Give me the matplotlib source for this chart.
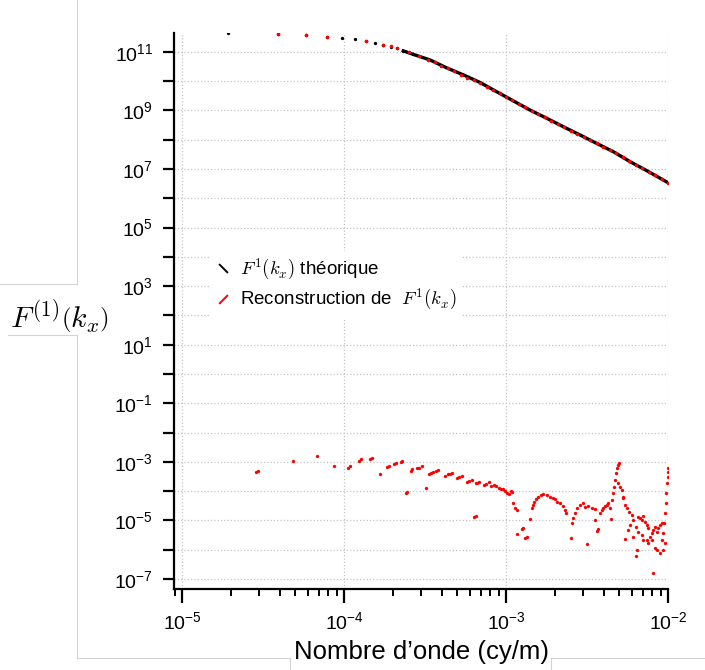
import matplotlib
matplotlib.use('Agg')
import matplotlib.pyplot as plt
import numpy as np
from matplotlib.lines import Line2D
from matplotlib.font_manager import FontProperties
from matplotlib.ticker import FixedLocator, LogLocator, NullFormatter

plt.rcParams['font.family'] = ['Liberation Sans', 'DejaVu Sans']
plt.rcParams['mathtext.fontset'] = 'custom'
plt.rcParams['mathtext.rm'] = 'Liberation Sans'
plt.rcParams['mathtext.it'] = 'Liberation Sans:italic'
plt.rcParams['mathtext.bf'] = 'Liberation Sans:bold'

# spectre theorique (log10 k, log10 F)
theo_logk = [-4.714, -4.409, -4.236, -4.107, -4.012, -3.932, -3.866, -3.809, -3.757, -3.712,
             -3.671, -3.634, -3.572, -3.469, -3.366, -3.263, -3.16, -3.0, -2.852, -2.749,
             -2.646, -2.543, -2.44, -2.338, -2.235, -2.131, -2.0]
theo_logF = [11.63, 11.60, 11.57, 11.51, 11.48, 11.42, 11.37, 11.31, 11.23, 11.17,
             11.12, 11.03, 10.91, 10.72, 10.45, 10.21, 9.95, 9.46, 9.01, 8.73,
             8.44, 8.16, 7.87, 7.59, 7.25, 6.94, 6.53]

# spectre reconstruit
recon_logk = [-4.409, -4.236, -4.107, -3.866, -3.757, -3.712, -3.671, -3.60, -3.54, -3.48,
              -3.44, -3.40, -3.36, -3.32, -3.28, -3.24, -3.20, -3.16, -3.12, -3.08,
              -3.04, -3.00, -2.96, -2.92, -2.88, -2.84, -2.80, -2.76, -2.72, -2.68,
              -2.64, -2.60, -2.56, -2.52, -2.48, -2.44, -2.40, -2.36, -2.32, -2.28,
              -2.24, -2.20, -2.16, -2.12, -2.08, -2.04, -2.00]
recon_logF = [11.60, 11.56, 11.52, 11.37, 11.24, 11.18, 11.12, 10.98, 10.86, 10.72,
              10.64, 10.53, 10.44, 10.33, 10.22, 10.12, 10.02, 9.92, 9.81, 9.69,
              9.58, 9.46, 9.34, 9.22, 9.10, 8.98, 8.87, 8.76, 8.64, 8.53,
              8.42, 8.31, 8.20, 8.09, 7.98, 7.87, 7.76, 7.65, 7.53, 7.40,
              7.27, 7.14, 7.02, 6.90, 6.78, 6.65, 6.53]

# ecart entre les deux (points rouges du bas)
err_logk = [-4.545, -4.533, -4.313, -4.165, -4.06, -3.977, -3.965, -3.905, -3.893, -3.84,
            -3.827, -3.78, -3.733, -3.722, -3.691, -3.681, -3.648, -3.64, -3.619, -3.609,
            -3.588, -3.578, -3.548, -3.537, -3.520, -3.494, -3.473, -3.461, -3.449, -3.432,
            -3.418, -3.377, -3.358, -3.346, -3.335, -3.304, -3.29, -3.273, -3.239, -3.227,
            -3.212, -3.198, -3.187, -3.187, -3.177, -3.165, -3.133, -3.121, -3.107, -3.09,
            -3.076, -3.064, -3.046, -3.031, -3.021, -3.006, -2.992, -2.981, -2.97, -2.96,
            -2.955, -2.944, -2.934, -2.934, -2.903, -2.893, -2.883, -2.869, -2.852, -2.841,
            -2.835, -2.827, -2.815, -2.80, -2.786, -2.77, -2.749, -2.728, -2.712, -2.698,
            -2.683, -2.667, -2.65, -2.636, -2.63, -2.601, -2.594, -2.585, -2.574, -2.56,
            -2.543, -2.527, -2.512, -2.502, -2.492, -2.471, -2.451, -2.451, -2.44, -2.43,
            -2.42, -2.409, -2.399, -2.389, -2.378, -2.368, -2.358, -2.354, -2.348, -2.338,
            -2.331, -2.325, -2.321, -2.317, -2.311, -2.303, -2.307, -2.296, -2.286, -2.28,
            -2.276, -2.265, -2.255, -2.239, -2.224, -2.235, -2.245, -2.265, -2.214, -2.198,
            -2.183, -2.173, -2.162, -2.152, -2.142, -2.131, -2.121, -2.111, -2.101, -2.091,
            -2.08, -2.07, -2.06, -2.049, -2.039, -2.193, -2.198, -2.131, -2.121, -2.101,
            -2.08, -2.07, -2.049, -2.091, -2.162, -2.152, -2.183, -2.214, -2.029, -2.018,
            -2.029, -2.039, -2.024, -2.018, -2.014, -2.010, -2.006, -2.003, -2.001, -2.000]
err_logF = [-3.36, -3.31, -2.98, -2.79, -3.14, -3.20, -3.15, -2.97, -2.91, -2.90,
            -2.86, -3.42, -3.18, -3.14, -3.07, -3.03, -3.01, -2.97, -4.07, -4.02,
            -3.31, -3.25, -3.20, -3.20, -3.14, -3.90, -3.42, -3.38, -3.36, -3.31,
            -3.28, -3.48, -3.42, -3.40, -3.38, -3.56, -3.53, -3.49, -3.68, -3.64,
            -3.62, -4.89, -4.84, -3.73, -3.71, -3.70, -3.79, -3.74, -3.70, -3.82,
            -3.80, -3.82, -3.90, -3.94, -3.94, -3.98, -4.05, -4.10, -3.98, -4.02,
            -4.39, -4.58, -4.64, -5.47, -5.30, -5.25, -5.59, -5.55, -4.95, -4.58,
            -4.47, -4.36, -4.28, -4.19, -4.13, -4.11, -4.13, -4.19, -4.24, -4.28,
            -4.36, -4.41, -4.50, -4.64, -4.73, -5.59, -5.10, -4.93, -4.73, -4.58,
            -4.47, -4.41, -4.53, -5.80, -4.50, -4.56, -4.62, -4.98, -5.35, -5.30,
            -4.76, -4.64, -4.56, -4.50, -4.47, -4.41, -4.58, -4.95, -4.30, -4.07,
            -3.85, -3.62, -3.39, -3.22, -3.10, -3.05, -3.73, -3.85, -3.96, -4.19,
            -4.24, -4.47, -4.58, -4.70, -4.81, -5.15, -5.32, -5.64, -4.98, -5.21,
            -4.87, -4.92, -4.98, -4.85, -5.04, -5.15, -5.27, -5.55, -5.44, -5.32,
            -5.21, -5.38, -5.27, -5.15, -5.10, -6.00, -6.23, -5.66, -5.77, -5.66,
            -5.95, -6.00, -6.12, -6.78, -5.49, -5.66, -5.38, -5.55, -6.00, -5.77,
            -5.44, -5.66, -5.10, -4.76, -4.41, -4.07, -3.73, -3.51, -3.33, -3.20]

y_decades = list(range(-7, 12))
x_decades = [-5, -4, -3, -2]

theo_k = 10.0 ** np.array(theo_logk)
theo_F = 10.0 ** np.array(theo_logF)
recon_k = 10.0 ** np.array(recon_logk)
recon_F = 10.0 ** np.array(recon_logF)
err_k = 10.0 ** np.array(err_logk)
err_F = 10.0 ** np.array(err_logF)

fig = plt.figure(figsize=(7.05, 6.70), dpi=100)
ax = fig.add_axes([174 / 705, 81 / 670, 494 / 705, 556 / 670])

# points theoriques isoles aux petits k, trait continu ensuite
low = theo_k < 3e-4
ax.plot(theo_k[low], theo_F[low], ls='none', marker='o', ms=2.4, mec='none', color='black', zorder=3)
ax.plot(theo_k[theo_k > 2.2e-4], theo_F[theo_k > 2.2e-4], color='black', lw=2.4, zorder=3)
ax.plot(recon_k, recon_F, ls='none', marker='o', ms=2.6, mec='none', color='red', zorder=4)
ax.plot(err_k, err_F, ls='none', marker='o', ms=2.4, mec='none', color='red', zorder=4)

ax.set_xscale('log')
ax.set_yscale('log')
ax.set_xlim(10 ** (-5 - 8 / 162), 1e-2)
ax.set_ylim(10 ** -7.34, 10 ** 11.64)

ax.xaxis.set_major_locator(FixedLocator([10.0 ** d for d in x_decades]))
ax.xaxis.set_minor_locator(LogLocator(base=10, subs=np.arange(2, 10), numticks=20))
ax.xaxis.set_minor_formatter(NullFormatter())
ax.set_xticklabels([r'$10^{%d}$' % d for d in x_decades])
ax.yaxis.set_major_locator(FixedLocator([10.0 ** d for d in y_decades]))
ax.yaxis.set_minor_locator(FixedLocator([]))
ax.set_yticklabels([r'$10^{%d}$' % d if d % 2 else '' for d in y_decades])

for s in ['top', 'right']:
    ax.spines[s].set_visible(False)
for s in ['left', 'bottom']:
    ax.spines[s].set_linewidth(1.6)
ax.tick_params(axis='x', which='major', length=10, width=1.6, pad=6, labelsize=14)
ax.tick_params(axis='x', which='minor', length=5, width=1.4)
ax.tick_params(axis='y', which='major', length=8, width=1.6, pad=7, labelsize=14)
ax.grid(True, which='major', ls=':', color='#c4c4c4', lw=0.9)

handles = [Line2D([], [], ls='none', marker=(2, 0, 45), ms=9, mew=1.4, color='black'),
           Line2D([], [], ls='none', marker=(2, 0, -45), ms=9, mew=1.4, color='red')]
labels = [r'$F^1(k_x)$ théorique', r'Reconstruction de  $F^1(k_x)$']
leg = ax.legend(handles, labels, loc='upper left', bbox_to_anchor=(0.051, 0.625),
                prop=FontProperties(family='Liberation Sans', size=13.5, math_fontfamily='cm'),
                frameon=True, facecolor='white', edgecolor='none', framealpha=1,
                borderpad=0.3, labelspacing=0.3, handlelength=0.9, handletextpad=0.5,
                fancybox=False)

fig.text(60 / 705, 1 - 316 / 670, r'$F^{(1)}\left(k_x\right)$', fontsize=21.5,
         math_fontfamily='cm', ha='center', va='center')
fig.text(421 / 705, 1 - 652 / 670, 'Nombre d\u2019onde (cy/m)', fontsize=18.5,
         ha='center', va='center')

# cadre gris clair autour des etiquettes
frame = '#d4d4d4'
W, H = 705.0, 670.0
segs = [((77, 335), (77, 658)), ((77, 658), (290, 658)), ((551, 658), (705, 658)),
        ((290, 658), (290, 670)), ((551, 658), (551, 670)), ((8, 335), (77, 335)),
        ((0, 284), (77, 284)), ((77, 0), (77, 284))]
for (x0, y0), (x1, y1) in segs:
    fig.add_artist(Line2D([x0 / W, x1 / W], [1 - y0 / H, 1 - y1 / H], color=frame, lw=0.8,
                          transform=fig.transFigure))

fig.savefig('out.png', dpi=100)
